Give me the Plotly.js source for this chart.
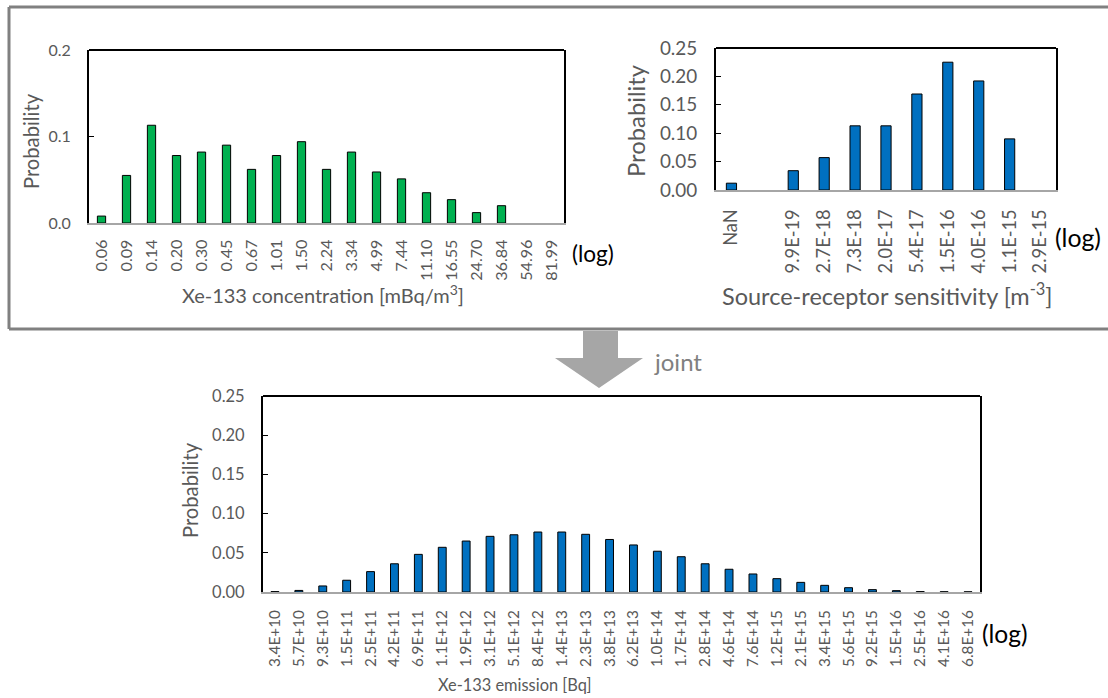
<!DOCTYPE html>
<html>
<head>
<meta charset="utf-8">
<script src="https://cdn.plot.ly/plotly-3.0.1.min.js"></script>
<style>html,body{margin:0;padding:0;background:#fff;}#chart{width:1108px;height:698px;}</style>
</head>
<body>
<div id="chart"></div>
<script>
// ---- Data ----
const concLabels = ['0.06','0.09','0.14','0.20','0.30','0.45','0.67','1.01','1.50','2.24','3.34','4.99','7.44','11.10','16.55','24.70','36.84','54.96','81.99'];
const concProb = [0.008,0.055,0.113,0.078,0.082,0.090,0.062,0.078,0.094,0.062,0.082,0.059,0.051,0.035,0.027,0.012,0.020,0,0];

const sensLabels = ['NaN','','9.9E-19','2.7E-18','7.3E-18','2.0E-17','5.4E-17','1.5E-16','4.0E-16','1.1E-15','2.9E-15'];
const sensProb = [0.012,0,0.034,0.057,0.113,0.113,0.169,0.225,0.192,0.090,0];

const emisLabels = ['3.4E+10','5.7E+10','9.3E+10','1.5E+11','2.5E+11','4.2E+11','6.9E+11','1.1E+12','1.9E+12','3.1E+12','5.1E+12','8.4E+12','1.4E+13','2.3E+13','3.8E+13','6.2E+13','1.0E+14','1.7E+14','2.8E+14','4.6E+14','7.6E+14','1.2E+15','2.1E+15','3.4E+15','5.6E+15','9.2E+15','1.5E+16','2.5E+16','4.1E+16','6.8E+16'];
const emisProb = [0.0005,0.002,0.0077,0.015,0.026,0.036,0.048,0.057,0.065,0.071,0.073,0.0765,0.0765,0.0736,0.067,0.060,0.052,0.045,0.036,0.029,0.023,0.017,0.0123,0.0085,0.0055,0.003,0.0017,0.0005,0.0003,0.0002];

// ---- Layout helpers ----
const W = 1108, H = 698;
const px = v => v / W;
const py = v => 1 - v / H;
const FONT = 'Lato, "Open Sans", sans-serif';
const GREY = '#595959';

// font size that makes a sample string span a given pixel length
const cv = document.createElement('canvas').getContext('2d');
function fit(sample, len, supPart){
  cv.font = '100px Lato, "Open Sans", sans-serif';
  let w = cv.measureText(sample).width;
  if (supPart) w += 0.7 * cv.measureText(supPart).width;
  return Math.round(100 * len / w * 10) / 10;
}

const sensIdx = sensLabels.map((_, i) => i);
const sensTickIdx = sensIdx.filter(i => sensLabels[i] !== '');
const sensTickText = sensTickIdx.map(i => sensLabels[i]);
const outline = vals => ({color:'#000', width: vals.map(v => v > 0 ? 1 : 0)});

const traces = [
  {type:'bar', x: concLabels, y: concProb, xaxis:'x', yaxis:'y',
   marker:{color:'#00B050', line: outline(concProb)}, hoverinfo:'x+y'},
  {type:'bar', x: sensIdx, y: sensProb, xaxis:'x2', yaxis:'y2',
   marker:{color:'#0070C0', line: outline(sensProb)}, hoverinfo:'y'},
  {type:'bar', x: emisLabels, y: emisProb, xaxis:'x3', yaxis:'y3',
   marker:{color:'#0070C0', line: outline(emisProb)}, hoverinfo:'x+y'}
];

function xAxis(domain, anchor, size, extra){
  return Object.assign({
    domain: domain, anchor: anchor, type:'category',
    showline:true, linecolor:'#A6A6A6', linewidth:2,
    ticks:'', tickangle:-90, ticklabelstandoff: 8,
    tickfont:{family:FONT, size:size, color:GREY},
    showgrid:false, zeroline:false, fixedrange:true
  }, extra || {});
}
function yAxis(domain, anchor, size, range, dtick, fmt){
  return {
    domain: domain, anchor: anchor, range: range, dtick: dtick, tickformat: fmt,
    showline:true, linecolor:'#000', linewidth:2, mirror:true,
    ticks:'inside', ticklen:5, tickcolor:'#000', tickwidth:1,
    ticklabelstandoff: 13,
    tickfont:{family:FONT, size:size, color:GREY},
    showgrid:false, zeroline:false, fixedrange:true
  };
}

const grayLine = {color:'#808080', width:3};
const layout = {
  width: W, height: H,
  margin:{l:0, r:0, t:0, b:0},
  paper_bgcolor:'#fff', plot_bgcolor:'#fff',
  showlegend:false,
  bargap: 0.67,
  font:{family:FONT, color:GREY},
  xaxis:  xAxis([px(89), px(564)], 'y', fit('0.06', 32)),
  yaxis:  yAxis([py(223), py(50)], 'x', fit('0.2', 22.3), [0, 0.2], 0.1, '.1f'),
  xaxis2: xAxis([px(716), px(1056)], 'y2', fit('9.9E-19', 64.3), {type:'linear', range:[-0.5, sensLabels.length - 0.5], tickmode:'array', tickvals: sensTickIdx, ticktext: sensTickText, ticklabelstandoff: 10}),
  yaxis2: yAxis([py(190), py(48)], 'x2', fit('0.25', 37.4), [0, 0.25], 0.05, '.2f'),
  xaxis3: xAxis([px(263), px(980)], 'y3', fit('3.4E+10', 56.7), {ticklabelstandoff: 10}),
  yaxis3: yAxis([py(592), py(396)], 'x3', fit('0.00', 32.7), [0, 0.25], 0.05, '.2f'),
  shapes: [
    // outer frame of the top panel (continues past the right edge)
    {type:'line', xref:'paper', yref:'paper', x0:px(9), x1:1.05, y0:py(7), y1:py(7), line:grayLine},
    {type:'line', xref:'paper', yref:'paper', x0:px(9), x1:1.05, y0:py(329), y1:py(329), line:grayLine},
    {type:'line', xref:'paper', yref:'paper', x0:px(9), x1:px(9), y0:py(7), y1:py(329), line:grayLine},
    // top border lines of plot areas
    {type:'line', xref:'paper', yref:'paper', x0:px(89), x1:px(564), y0:py(50), y1:py(50), line:{color:'#000', width:2}},
    {type:'line', xref:'paper', yref:'paper', x0:px(716), x1:px(1056), y0:py(48), y1:py(48), line:{color:'#000', width:2}},
    {type:'line', xref:'paper', yref:'paper', x0:px(263), x1:px(980), y0:py(396), y1:py(396), line:{color:'#000', width:2}},
    // arrow
    {type:'path', xref:'paper', yref:'paper',
     path: 'M '+px(583)+','+py(331)+' L '+px(618)+','+py(331)+' L '+px(618)+','+py(358)+' L '+px(643)+','+py(358)+' L '+px(599)+','+py(388)+' L '+px(555)+','+py(358)+' L '+px(583)+','+py(358)+' Z',
     fillcolor:'#A6A6A6', line:{width:0}}
  ],
  annotations: [
    {xref:'paper', yref:'paper', x:px(323), y:py(294), text:'Xe-133 concentration [mBq/m<sup>3</sup>]', showarrow:false, xanchor:'center', yanchor:'middle', font:{family:FONT, size:fit('Xe-133 concentration [mBq/m]', 286, '3]'), color:GREY}},
    {xref:'paper', yref:'paper', x:px(31), y:py(141), text:'Probability', textangle:-90, showarrow:false, xanchor:'center', yanchor:'middle', font:{family:FONT, size:fit('Probability', 95), color:GREY}},
    {xref:'paper', yref:'paper', x:px(593), y:py(254), text:'(log)', showarrow:false, xanchor:'center', yanchor:'middle', font:{family:FONT, size:fit('(log)', 42), color:'#000'}},

    {xref:'paper', yref:'paper', x:px(887), y:py(294), text:'Source-receptor sensitivity [m<sup>-3</sup>]', showarrow:false, xanchor:'center', yanchor:'middle', font:{family:FONT, size:fit('Source-receptor sensitivity [m]', 331, '-3'), color:GREY}},
    {xref:'paper', yref:'paper', x:px(636), y:py(121), text:'Probability', textangle:-90, showarrow:false, xanchor:'center', yanchor:'middle', font:{family:FONT, size:fit('Probability', 112), color:GREY}},
    {xref:'paper', yref:'paper', x:px(1078), y:py(237), text:'(log)', showarrow:false, xanchor:'center', yanchor:'middle', font:{family:FONT, size:fit('(log)', 46), color:'#000'}},

    {xref:'paper', yref:'paper', x:px(515), y:py(684), text:'Xe-133 emission [Bq]', showarrow:false, xanchor:'center', yanchor:'middle', font:{family:FONT, size:fit('Xe-133 emission [Bq]', 154), color:GREY}},
    {xref:'paper', yref:'paper', x:px(190), y:py(490), text:'Probability', textangle:-90, showarrow:false, xanchor:'center', yanchor:'middle', font:{family:FONT, size:fit('Probability', 95), color:GREY}},
    {xref:'paper', yref:'paper', x:px(1005), y:py(633), text:'(log)', showarrow:false, xanchor:'center', yanchor:'middle', font:{family:FONT, size:fit('(log)', 45.7), color:'#000'}},

    {xref:'paper', yref:'paper', x:px(678), y:py(361), text:'joint', showarrow:false, xanchor:'center', yanchor:'middle', font:{family:FONT, size:fit('joint', 47), color:'#808080'}}
  ]
};

Plotly.newPlot('chart', traces, layout, {staticPlot:true, displayModeBar:false});
</script>
</body>
</html>
